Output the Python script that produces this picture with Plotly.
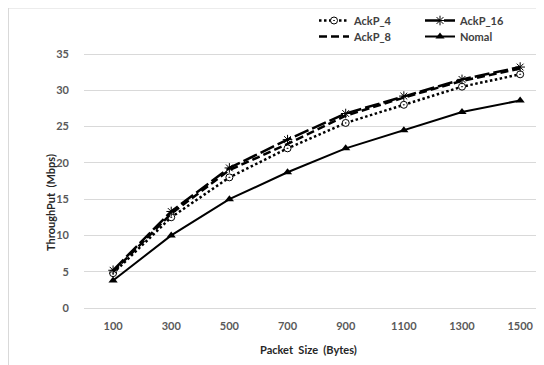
import plotly.graph_objects as go

packet_sizes = ["100", "300", "500", "700", "900", "1100", "1300", "1500"]
ackp_4 = [4.8, 12.5, 18.0, 22.0, 25.5, 28.0, 30.5, 32.2]
ackp_8 = [5.0, 13.0, 19.0, 22.6, 26.5, 29.0, 31.3, 33.0]
ackp_16 = [5.2, 13.3, 19.3, 23.2, 26.8, 29.2, 31.5, 33.2]
nomal = [3.8, 10.0, 15.0, 18.7, 22.0, 24.5, 27.0, 28.6]
y_ticks = [0, 5, 10, 15, 20, 25, 30, 35]

FONT = "Lato"
OFF = 8                      # page body margin
W, H = 544 - OFF, 365 - OFF
L, T, B = 84 - OFF, 0, H - (308 - OFF)
PW, PH = W - L, H - T - B


def px_x(sx):
    return (sx - OFF - L) / PW


def px_y(sy):
    return (H - B - (sy - OFF)) / PH


fig = go.Figure()
fig.add_trace(go.Scatter(x=packet_sizes, y=ackp_4, name="AckP_4", mode="lines+markers",
                         line=dict(color="black", width=2.5, dash="2.5px,2.5px"),
                         marker=dict(symbol="circle-dot", size=7, color="white",
                                     line=dict(color="black", width=1)),
                         legend="legend"))
fig.add_trace(go.Scatter(x=packet_sizes, y=ackp_8, name="AckP_8", mode="lines",
                         line=dict(color="black", width=2.5, dash="8px,4px"),
                         legend="legend2"))
fig.add_trace(go.Scatter(x=packet_sizes, y=ackp_16, name="AckP_16", mode="lines+markers",
                         line=dict(color="black", width=2.5, dash="15px,4px"),
                         marker=dict(symbol="asterisk-open", size=8, color="black",
                                     line=dict(color="black", width=1)),
                         legend="legend3"))
fig.add_trace(go.Scatter(x=packet_sizes, y=nomal, name="Nomal", mode="lines+markers",
                         line=dict(color="black", width=2),
                         marker=dict(symbol="triangle-up", size=8, color="black"),
                         legend="legend4"))

legend_style = dict(orientation="v", xanchor="left", yanchor="top",
                    bgcolor="rgba(0,0,0,0)",
                    font=dict(family=FONT, size=11, color="#404040", weight="bold"),
                    tracegroupgap=0, itemwidth=30)

y_top = 35 * PH / ((H - B) - (54 - OFF))

fig.update_layout(
    width=W, height=H,
    margin=dict(l=L, r=0, t=T, b=B, autoexpand=False),
    paper_bgcolor="white", plot_bgcolor="white",
    font=dict(family=FONT, size=11, color="#595959"),
    xaxis=dict(type="category", range=[-0.5, 7.41], showgrid=False, showline=False,
               ticks="", tickfont=dict(family=FONT, size=11, color="#595959", weight="bold"),
               ticklabelstandoff=10),
    yaxis=dict(range=[0, y_top], tickvals=y_ticks, showgrid=True, gridcolor="#d9d9d9",
               gridwidth=1, zeroline=True, zerolinecolor="#d9d9d9", zerolinewidth=1,
               showline=False, ticks="",
               tickfont=dict(family=FONT, size=11, color="#595959", weight="bold"),
               ticklabelstandoff=14),
    legend=dict(x=px_x(314), y=px_y(6), **legend_style),
    legend2=dict(x=px_x(314), y=px_y(22), **legend_style),
    legend3=dict(x=px_x(420), y=px_y(6), **legend_style),
    legend4=dict(x=px_x(420), y=px_y(22), **legend_style),
    showlegend=True,
    annotations=[
        dict(text="ThroughPut  (Mbps)", xref="paper", yref="paper",
             x=px_x(50), y=px_y(203), textangle=-90, showarrow=False,
             xanchor="center", yanchor="middle",
             font=dict(family=FONT, size=11, color="#262626", weight="bold")),
        dict(text="Packet  Size  (Bytes)", xref="paper", yref="paper",
             x=px_x(308), y=px_y(349), showarrow=False,
             xanchor="center", yanchor="middle",
             font=dict(family=FONT, size=11, color="#262626", weight="bold")),
    ],
    shapes=[
        dict(type="line", xref="paper", yref="paper", x0=px_x(OFF), x1=1.0,
             y0=1.0, y1=1.0, line=dict(color="#d9d9d9", width=1)),
        dict(type="line", xref="paper", yref="paper", x0=px_x(OFF + 0.5), x1=px_x(OFF + 0.5),
             y0=1.0, y1=px_y(365), line=dict(color="#d9d9d9", width=1)),
    ],
)

fig.write_html("out.html")
